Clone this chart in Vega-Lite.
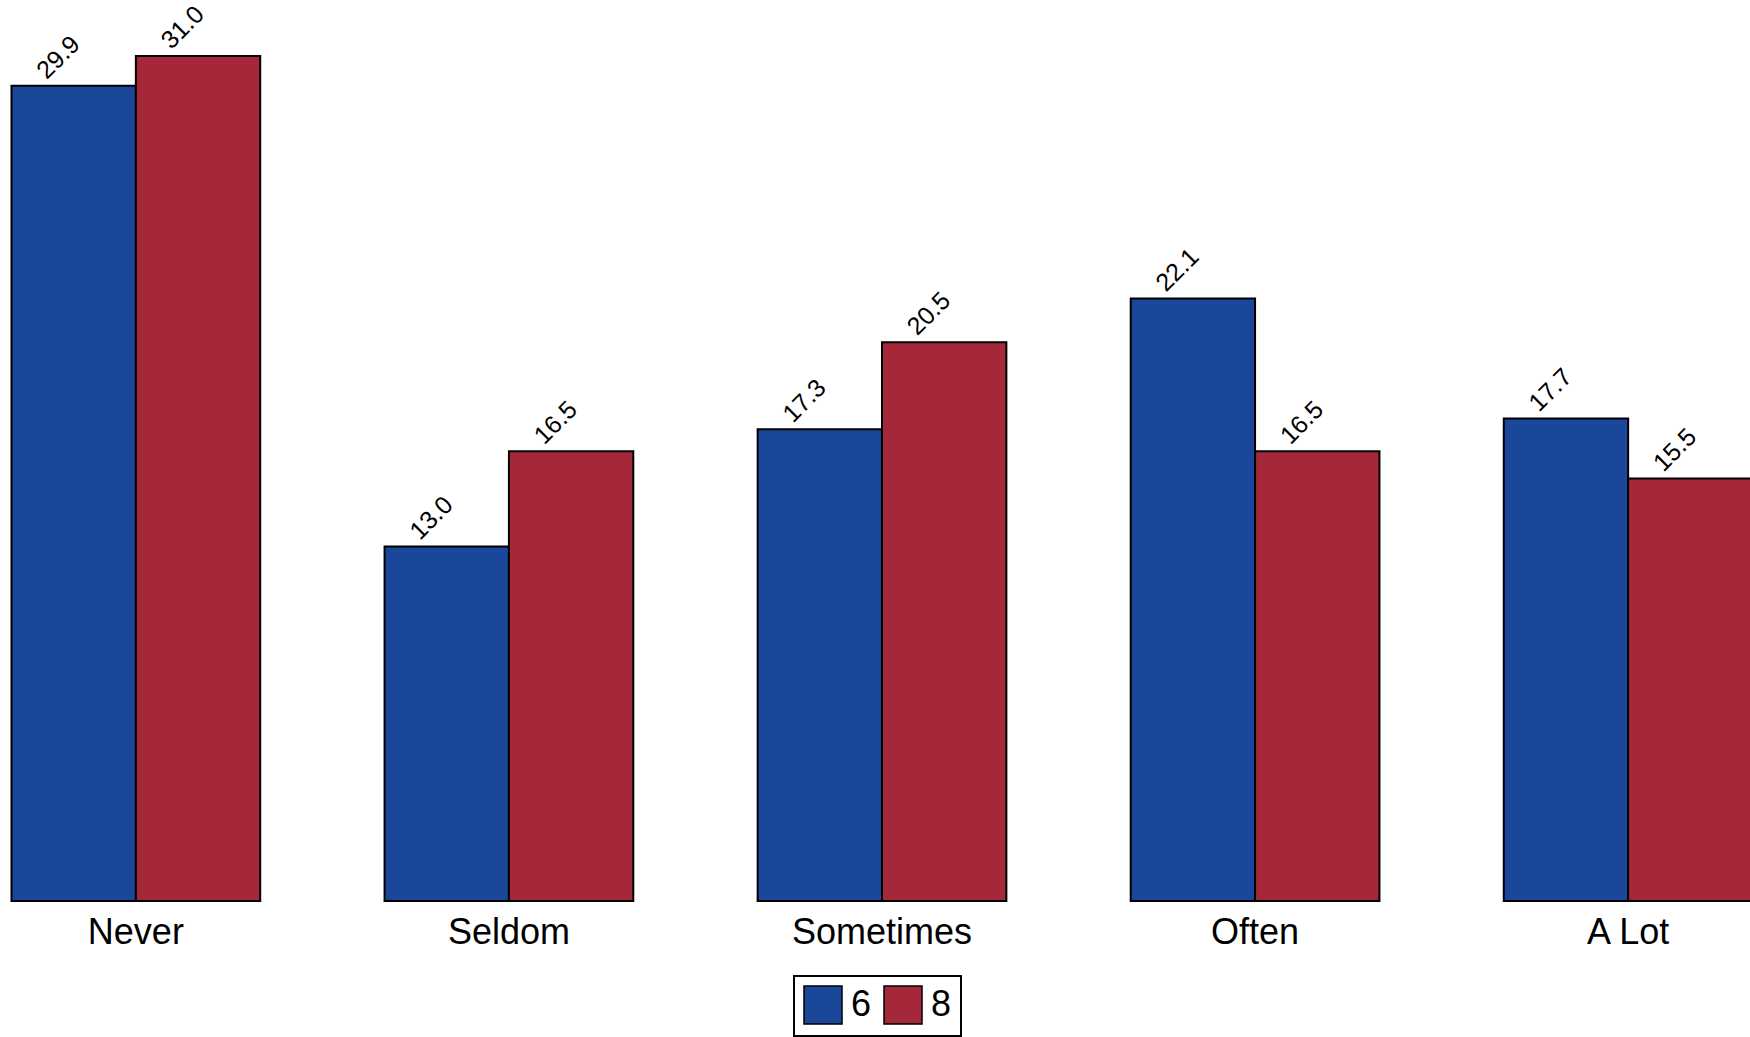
{
  "$schema": "https://vega.github.io/schema/vega-lite/v6.json",
  "width": 1764,
  "height": 901,
  "autosize": {"type": "none"},
  "padding": {"left": 0, "top": 0, "right": 0, "bottom": 136},
  "background": "white",
  "config": {"view": {"stroke": null}, "font": "Liberation Sans", "legend": {"strokeWidth": 2}},
  "data": {
    "values": [
      {"response": "Never", "grade": "6", "pct": 29.9},
      {"response": "Never", "grade": "8", "pct": 31.0},
      {"response": "Seldom", "grade": "6", "pct": 13.0},
      {"response": "Seldom", "grade": "8", "pct": 16.5},
      {"response": "Sometimes", "grade": "6", "pct": 17.3},
      {"response": "Sometimes", "grade": "8", "pct": 20.5},
      {"response": "Often", "grade": "6", "pct": 22.1},
      {"response": "Often", "grade": "8", "pct": 16.5},
      {"response": "A Lot", "grade": "6", "pct": 17.7},
      {"response": "A Lot", "grade": "8", "pct": 15.5}
    ]
  },
  "encoding": {
    "x": {
      "field": "response",
      "type": "nominal",
      "sort": ["Never", "Seldom", "Sometimes", "Often", "A Lot"],
      "scale": {"paddingInner": 0.3333, "paddingOuter": 0.0308},
      "axis": {"title": null, "labelAngle": 0, "labelFontSize": 36, "labelColor": "black", "ticks": false, "domain": false, "labelPadding": 14, "labelFont": "Liberation Sans", "labelLimit": 0}
    },
    "xOffset": {"field": "grade", "type": "nominal", "scale": {"paddingInner": 0, "paddingOuter": 0}},
    "y": {"field": "pct", "type": "quantitative", "scale": {"domain": [0, 33.05], "nice": false, "zero": true}, "axis": null}
  },
  "layer": [
    {
      "mark": {"type": "bar", "stroke": "black", "strokeWidth": 2},
      "encoding": {
        "color": {
          "field": "grade",
          "type": "nominal",
          "scale": {"domain": ["6", "8"], "range": ["#1a4799", "#a4273a"]},
          "legend": {
            "orient": "none", "legendX": 794, "legendY": 976, "direction": "horizontal", "title": null,
            "symbolType": "square", "symbolSize": 1444, "symbolStrokeColor": "black", "symbolStrokeWidth": 1.5, "symbolOpacity": 1,
            "labelFontSize": 36, "labelFont": "Liberation Sans", "labelColor": "black", "labelOffset": 8, "columnPadding": 9,
            "padding": 9, "strokeColor": "black", "fillColor": "white"
          }
        }
      }
    },
    {
      "mark": {"type": "text", "angle": -45, "align": "left", "baseline": "alphabetic", "dx": -15, "dy": -23, "fontSize": 25, "font": "Liberation Sans", "color": "black"},
      "encoding": {"text": {"field": "pct", "type": "quantitative", "format": ".1f"}}
    }
  ]
}
